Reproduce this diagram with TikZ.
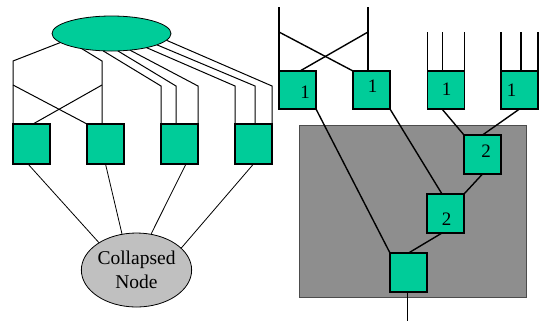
\documentclass[tikz,border=0pt]{standalone}
\usepackage{fontspec}
\setmainfont{Liberation Serif}
\usetikzlibrary{shapes.geometric,calc,backgrounds}
\definecolor{boxgreen}{HTML}{00CC99}
\definecolor{panegray}{HTML}{8E8E8E}
\definecolor{nodegray}{HTML}{C0C0C0}
\begin{document}
\begin{tikzpicture}[x=1bp,y=-1bp,
  box/.style={draw=black, line width=1.6bp, fill=boxgreen, minimum width=37bp,
    minimum height=40bp, inner sep=0pt, outer sep=0pt},
  rbox/.style={box, minimum height=38bp},
  digit/.style={inner sep=0pt, font=\fontsize{19bp}{23bp}\selectfont},
  wire/.style={line width=1bp},
  rwire/.style={line width=1.4bp},
  thinwire/.style={line width=0.8bp}]
\useasboundingbox (0,0) rectangle (543,320);

% left: collapsed tree
\node[ellipse, draw, line width=0.8bp, fill=boxgreen, minimum width=119bp,
  minimum height=35bp, inner sep=0pt, outer sep=0pt] (root) at (111.5,33.5) {};
\node[box] (b1) at (31.5,144) {};
\node[box] (b2) at (105.5,144) {};
\node[box] (b3) at (179.5,144) {};
\node[box] (b4) at (253.5,144) {};
\node[ellipse, draw, line width=0.8bp, fill=nodegray, minimum width=109bp,
  minimum height=74bp, inner sep=0pt, outer sep=0pt, align=center,
  font=\fontsize{19.5bp}{24bp}\selectfont] (coll) at (136.5,270) {Collapsed\\Node};

% right: expanded tree
\node[rbox] (A) at (297.5,90) {};
\node[rbox] (B) at (371.5,90) {};
\node[rbox] (C) at (446,90) {};
\node[rbox] (D) at (519.5,90) {};
\node[rbox, minimum height=39bp] (E) at (482.5,154.5) {};
\node[rbox, minimum height=39bp] (F) at (445.5,213.5) {};
\node[rbox, minimum height=39bp] (G) at (408.5,272.5) {};

\node[digit] at ($(A)+(7.5,2)$) {1};
\node[digit] at ($(B)+(1,-3.7)$) {1};
\node[digit] at ($(C)+(0.7,-0.5)$) {1};
\node[digit] at ($(D)+(-8,0)$) {1};
\node[digit] at ($(E)+(3.5,-3.5)$) {2};
\node[digit] at ($(F)+(1,5.5)$) {2};

\begin{scope}[on background layer]
  \node[draw=black!70, line width=1bp, fill=panegray, minimum width=227bp,
    minimum height=172bp, anchor=north west, inner sep=0pt] (pane) at (299,125) {};

  % root to the left pair, with crossing
  \draw[wire] (root.190) -- ($(b1.north west)+(0,-63)$) -- (b1.north west);
  \draw[wire] ($(b1.north west)+(0,-39)$) -- (b2.north west);
  \draw[wire] (root.207) -- ($(b2.north west)+(15,-63)$) -- ($(b2.north west)+(15,0)$);
  \draw[wire] ($(b2.north west)+(15,-39)$) -- ($(b1.north west)+(20,0)$);
  % root to the third box
  \draw[wire] (root.244) -- ($(b3.north west)+(0,-38)$) -- (b3.north west);
  \draw[wire] (root.290.5) -- ($(b3.north west)+(15,-38)$) -- ($(b3.north west)+(15,0)$);
  \draw[wire] (root.318) -- ($(b3.north east)+(0,-38)$) -- (b3.north east);
  % root to the fourth box
  \draw[wire] (root.338.5) -- ($(b4.north west)+(0,-38)$) -- (b4.north west);
  \draw[wire] (root.346.8) -- ($(b4.north west)+(20,-38)$) -- ($(b4.north west)+(20,0)$);
  \draw[wire] (root.353.5) -- ($(b4.north east)+(0,-38)$) -- (b4.north east);
  % boxes to the collapsed node
  \draw[thinwire] ($(b1.south)+(-3.5,0)$) -- (coll.144.7);
  \draw[thinwire] (b2.south) -- (coll.112);
  \draw[thinwire] ($(b3.south)+(6.5,0)$) -- (coll.68.6);
  \draw[thinwire] (b4.south) -- (coll.26.3);

  % inputs of the right tree
  \draw[rwire] ($(A.north west)+(0,-64)$) -- (A.north west);
  \draw[rwire] ($(B.north west)+(15,-64)$) -- ($(B.north west)+(15,0)$);
  \draw[rwire] ($(A.north west)+(0,-39)$) -- (B.north west);
  \draw[rwire] ($(B.north west)+(15,-39)$) -- ($(A.north west)+(21,0)$);
  \draw[rwire] ($(C.north west)+(0,-39)$) -- (C.north west);
  \draw[rwire] ($(C.north west)+(15,-39)$) -- ($(C.north west)+(15,0)$);
  \draw[rwire] ($(C.north east)+(0,-39)$) -- (C.north east);
  \draw[rwire] ($(D.north west)+(0,-39)$) -- (D.north west);
  \draw[rwire] ($(D.north west)+(20,-39)$) -- ($(D.north west)+(20,0)$);
  \draw[rwire] ($(D.north east)+(0,-39)$) -- (D.north east);

  % connections of the right tree
  \draw[rwire] (A.south east) -- (G.north west);
  \draw[rwire] (B.south east) -- ($(F.north)+(-3.5,0)$);
  \draw[rwire] ($(C.south)+(-4,0)$) -- (E.north west);
  \draw[rwire] (D.south) -- (E.north);
  \draw[rwire] (E.south) -- (F.north east);
  \draw[rwire] ($(F.south)+(-3.5,0)$) -- (G.north);
  \coordinate (out) at ($(G.south)+(-1,28.5)$);
  \draw[rwire] ($(G.south)+(-1,0)$) -- (out);
\end{scope}
\end{tikzpicture}
\end{document}
